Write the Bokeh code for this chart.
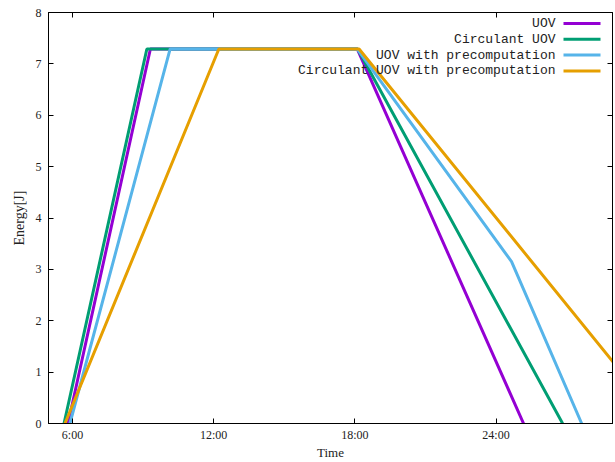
from bokeh.plotting import figure
from bokeh.models import (Range1d, FixedTicker, LinearAxis, Label, BoxAnnotation,
                          CustomJSTickFormatter)
from bokeh.embed import file_html
from bokeh.resources import INLINE

# ---- data (time in hours, energy in J) ----
uov_t = [5.81, 9.31, 18.10, 25.17]
uov_e = [0.0, 7.29, 7.29, 0.0]
circ_t = [5.64, 9.16, 18.12, 26.83]
circ_e = [0.0, 7.29, 7.29, 0.0]
pre_t = [5.89, 10.15, 18.10, 24.66, 27.64]
pre_e = [0.0, 7.29, 7.29, 3.15, 0.0]
circpre_t = [5.68, 12.22, 18.18, 31.10]
circpre_e = [0.0, 7.29, 7.29, 0.0]

series_names = ["UOV", "Circulant UOV", "UOV with precomputation",
                "Circulant UOV with precomputation"]
series_colors = ["#9400d3", "#009e73", "#56b4e9", "#e69f00"]

x_ticks = [6, 12, 18, 24]
x_tick_labels = ["6:00", "12:00", "18:00", "24:00"]
y_ticks = [0, 1, 2, 3, 4, 5, 6, 7, 8]

SERIF = "Liberation Serif"
MONO = "Liberation Mono"

p = figure(width=615, height=462, output_backend="svg", toolbar_location=None,
           x_range=Range1d(4.98, 28.95), y_range=Range1d(0, 8),
           min_border_left=48, min_border_right=3, min_border_top=12,
           min_border_bottom=38)
p.background_fill_color = "white"
p.border_fill_color = "white"
p.outline_line_color = "black"
p.xgrid.visible = False
p.ygrid.visible = False

xs = [uov_t, circ_t, pre_t, circpre_t]
ys = [uov_e, circ_e, pre_e, circpre_e]
for x, y, c in zip(xs, ys, series_colors):
    p.line(x, y, line_color=c, line_width=3)


def style_axis(ax, ticks):
    ax.ticker = FixedTicker(ticks=ticks)
    ax.axis_line_color = "black"
    ax.axis_line_width = 1
    ax.major_tick_line_color = "black"
    ax.major_tick_in = 5
    ax.major_tick_out = 0
    ax.minor_tick_line_color = None
    ax.major_label_text_font = SERIF
    ax.major_label_text_font_size = "12px"
    ax.major_label_text_color = "#222222"
    ax.axis_label_text_font = SERIF
    ax.axis_label_text_font_size = "13px"
    ax.axis_label_text_font_style = "normal"
    ax.axis_label_text_color = "#222222"


xa = p.xaxis[0]
style_axis(xa, x_ticks)
xa.major_label_overrides = {t: l for t, l in zip(x_ticks, x_tick_labels)}
xa.major_label_standoff = 4
xa.axis_label = "Time"
xa.axis_label_standoff = 0

ya = p.yaxis[0]
style_axis(ya, y_ticks)
ya.major_label_standoff = 7
ya.axis_label = "Energy[J]"
ya.axis_label_text_font_size = "14px"
ya.axis_label_standoff = 6

top = LinearAxis(formatter=CustomJSTickFormatter(code="return ''"))
style_axis(top, x_ticks)
top.major_label_standoff = 0
p.add_layout(top, "above")

right = LinearAxis(formatter=CustomJSTickFormatter(code="return ''"))
style_axis(right, y_ticks)
right.major_label_standoff = 0
p.add_layout(right, "right")

# ---- gnuplot-style key: text right-aligned, sample to its right ----
frame_h = 412
row0 = 12
row_step = 15.8
for i, (name, c) in enumerate(zip(series_names, series_colors)):
    yy = frame_h - (row0 + i * row_step)
    p.add_layout(Label(x=507, y=yy, x_units="screen", y_units="screen",
                       text=name, text_align="right", text_baseline="middle",
                       text_font=MONO, text_font_size="13px",
                       text_color="#222222"))
    p.add_layout(BoxAnnotation(left=515, right=552, bottom=yy - 1.5, top=yy + 1.5,
                               left_units="screen", right_units="screen",
                               bottom_units="screen", top_units="screen",
                               fill_color=c, fill_alpha=1.0, line_color=None))

open("out.html", "w").write(file_html(p, INLINE))
